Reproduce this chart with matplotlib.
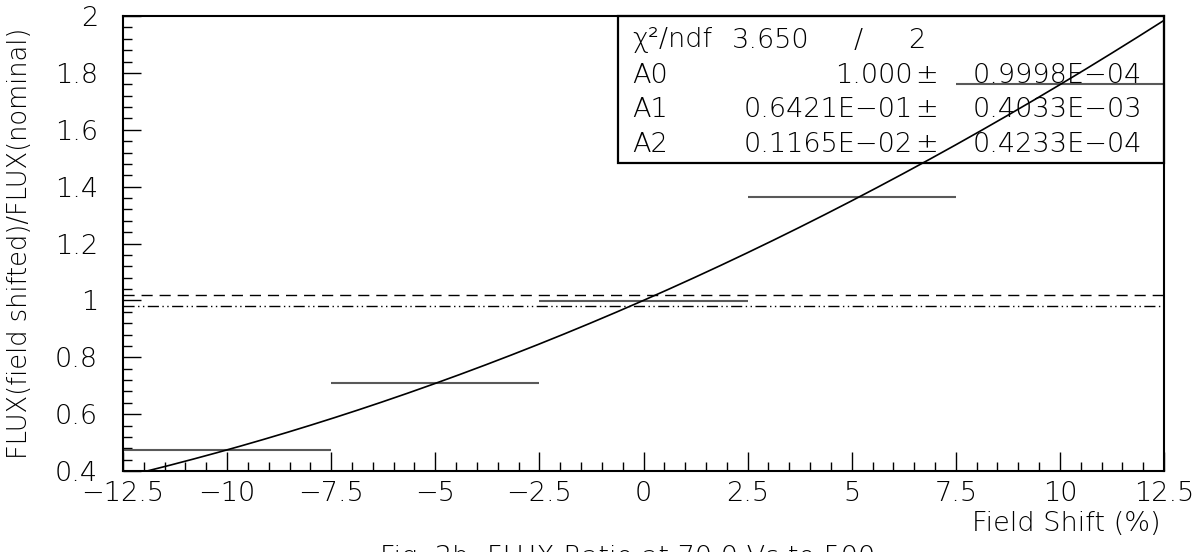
import numpy as np
import matplotlib
matplotlib.use("Agg")
import matplotlib.pyplot as plt
from matplotlib.patches import Rectangle
from matplotlib.ticker import MultipleLocator, FuncFormatter

# field-shift bins (%) and measured flux ratios
shift = [-10.0, -5.0, 0.0, 5.0, 10.0]
shift_halfwidth = [2.5, 2.5, 2.5, 2.5, 2.5]
ratio = [0.474, 0.709, 0.998, 1.364, 1.760]
ratio_err = [0.003, 0.003, 0.003, 0.004, 0.004]

# quadratic fit A0 + A1*x + A2*x^2
fit_pars = [1.000, 0.6421e-01, 0.1165e-02]
fit_errs = ["0.9998E-04", "0.4033E-03", "0.4233E-04"]
fit_vals = ["1.000", "0.6421E-01", "0.1165E-02"]
par_names = ["A0", "A1", "A2"]
chi2, ndf = 3.650, 2

band_hi, band_lo = 1.02, 0.98

plt.rcParams["font.family"] = ["DejaVu Sans"]
FS = 19.5

fig = plt.figure(figsize=(12, 5.52), dpi=100)
ax = fig.add_axes([0.1025, 0.1467, 0.8675, 0.8243])

ax.set_xlim(-12.5, 12.5)
ax.set_ylim(0.4, 2.0)

# band around unity
ax.axhline(band_hi, color="black", lw=1.0, ls=(0, (8, 5)))
ax.axhline(band_lo, color="black", lw=1.0, ls=(0, (8, 2.5, 1, 2.5, 1, 2.5)))

ax.errorbar(shift, ratio, xerr=shift_halfwidth, yerr=ratio_err, fmt="none",
            ecolor="0.35", elinewidth=1.5, capsize=0)

xs = np.linspace(-12.5, 12.5, 400)
ax.plot(xs, fit_pars[0] + fit_pars[1] * xs + fit_pars[2] * xs ** 2,
        color="black", lw=1.2)

# ticks drawn inside, left and bottom only
for s in ax.spines.values():
    s.set_linewidth(1.5)
ax.xaxis.set_major_locator(MultipleLocator(2.5))
ax.xaxis.set_minor_locator(MultipleLocator(0.5))
ax.yaxis.set_major_locator(MultipleLocator(0.2))
ax.yaxis.set_minor_locator(MultipleLocator(0.04))
ax.tick_params(axis="x", which="major", direction="in", length=14, width=1, pad=7,
               labelsize=FS)
ax.tick_params(axis="x", which="minor", direction="in", length=6.5, width=1)
ax.tick_params(axis="y", which="major", direction="in", length=13, width=1, pad=18,
               labelsize=FS)
ax.tick_params(axis="y", which="minor", direction="in", length=6.5, width=1)


def fmt_tick(v, pos):
    return f"{v:g}".replace("-", "\u2212")


ax.xaxis.set_major_formatter(FuncFormatter(fmt_tick))
ax.yaxis.set_major_formatter(FuncFormatter(fmt_tick))
for lab in ax.get_xticklabels() + ax.get_yticklabels():
    lab.set_fontweight("light")

ax.set_ylabel("FLUX(field shifted)/FLUX(nominal)", fontsize=18.5, fontweight="light")
ax.yaxis.set_label_coords(-0.087, 0.5)
fig.text(0.967, 0.052, "Field Shift (%)", ha="right", va="center",
         fontsize=FS, fontweight="light")
fig.text(0.317, 0.012, "Fig. 3b: FLUX Ratio at 70.0 Vs to 500", ha="left", va="top",
         fontsize=FS, fontweight="light")

# fit statistics box
x0 = (618 - 123) / 1041
box_bottom = (471 - 163) / 455
ax.add_patch(Rectangle((x0, box_bottom), 1 - x0, 1 - box_bottom, transform=ax.transAxes,
                       fill=False, lw=1.6, edgecolor="black", clip_on=False, zorder=5))


def ax_x(px):
    return (px - 123) / 1041


def ax_y(px):
    return (471 - px) / 455


kw = dict(transform=ax.transAxes, fontsize=FS, fontweight="light", va="center")
ax.text(ax_x(632), ax_y(40), "\u03c7\u00b2/ndf", ha="left", **kw)
ax.text(ax_x(810), ax_y(40), f"{chi2:.3f}", ha="right", **kw)
ax.text(ax_x(858), ax_y(40), "/", ha="center", **kw)
ax.text(ax_x(917), ax_y(40), f"{ndf}", ha="center", **kw)
rows = [75, 109, 144]
for name, val, err, yp in zip(par_names, fit_vals, fit_errs, rows):
    ax.text(ax_x(632), ax_y(yp), name, ha="left", **kw)
    ax.text(ax_x(913), ax_y(yp), val.replace("-", "\u2212"), ha="right", **kw)
    ax.text(ax_x(927), ax_y(yp), "\u00b1", ha="center", **kw)
    ax.text(ax_x(1142), ax_y(yp), err.replace("-", "\u2212"), ha="right", **kw)

fig.savefig("out.png", dpi=100)
